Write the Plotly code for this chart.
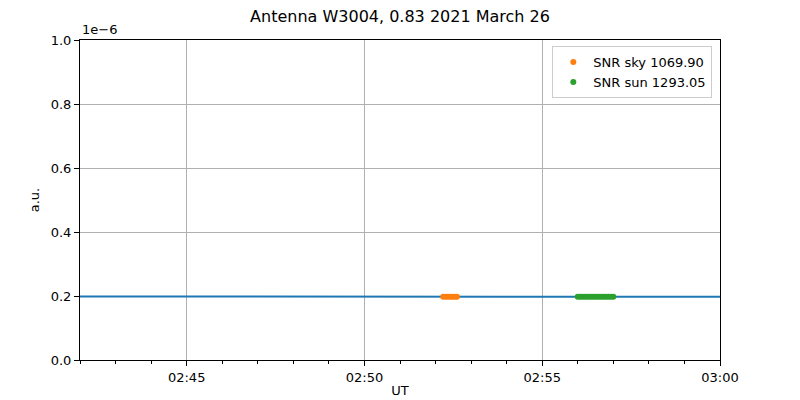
import plotly.graph_objects as go

# Data (values in units of 1e-6 a.u.)
line_times = ["2021-03-26 02:42:00", "2021-03-26 02:43:00", "2021-03-26 02:44:00", "2021-03-26 02:45:00",
              "2021-03-26 02:46:00", "2021-03-26 02:47:00", "2021-03-26 02:48:00", "2021-03-26 02:49:00",
              "2021-03-26 02:50:00", "2021-03-26 02:51:00", "2021-03-26 02:52:00", "2021-03-26 02:53:00",
              "2021-03-26 02:54:00", "2021-03-26 02:55:00", "2021-03-26 02:56:00", "2021-03-26 02:57:00",
              "2021-03-26 02:58:00", "2021-03-26 02:59:00", "2021-03-26 03:00:00"]
line_values = [0.1985, 0.1983, 0.1981, 0.1979, 0.1980, 0.1978, 0.1977, 0.1979, 0.1980, 0.1981,
               0.1979, 0.1982, 0.1981, 0.1980, 0.1979, 0.1978, 0.1979, 0.1978, 0.1979]

sky_times = ["2021-03-26 02:52:13", "2021-03-26 02:52:17", "2021-03-26 02:52:21", "2021-03-26 02:52:25",
             "2021-03-26 02:52:29", "2021-03-26 02:52:33", "2021-03-26 02:52:36"]
sky_values = [0.1975, 0.1974, 0.1976, 0.1975, 0.1974, 0.1975, 0.1976]

sun_times = ["2021-03-26 02:56:00", "2021-03-26 02:56:04", "2021-03-26 02:56:08", "2021-03-26 02:56:12",
             "2021-03-26 02:56:16", "2021-03-26 02:56:20", "2021-03-26 02:56:24", "2021-03-26 02:56:28",
             "2021-03-26 02:56:32", "2021-03-26 02:56:36", "2021-03-26 02:56:40", "2021-03-26 02:56:44",
             "2021-03-26 02:56:48", "2021-03-26 02:56:52", "2021-03-26 02:56:56", "2021-03-26 02:57:00"]
sun_values = [0.1976, 0.1975, 0.1976, 0.1977, 0.1975, 0.1976, 0.1975, 0.1976,
              0.1977, 0.1976, 0.1975, 0.1976, 0.1976, 0.1975, 0.1976, 0.1975]

sky_label = "SNR sky 1069.90"
sun_label = "SNR sun 1293.05"
title_text = "Antenna W3004, 0.83 2021 March 26"
x_tickvals = ["2021-03-26 02:45:00", "2021-03-26 02:50:00", "2021-03-26 02:55:00", "2021-03-26 03:00:00"]
x_ticktext = ["02:45", "02:50", "02:55", "03:00"]
y_tickvals = [0.0, 0.2, 0.4, 0.6, 0.8, 1.0]
y_ticktext = ["0.0", "0.2", "0.4", "0.6", "0.8", "1.0"]

FONT = "DejaVu Sans"
# page body has an 8px default margin: compensate
W, H = 792, 392

fig = go.Figure()
fig.add_trace(go.Scatter(x=line_times, y=line_values, mode="lines",
                         line=dict(color="#1f77b4", width=2), showlegend=False))
fig.add_trace(go.Scatter(x=sky_times, y=sky_values, mode="markers", name=sky_label,
                         marker=dict(color="#ff7f0e", size=6, line=dict(width=0))))
fig.add_trace(go.Scatter(x=sun_times, y=sun_values, mode="markers", name=sun_label,
                         marker=dict(color="#2ca02c", size=6, line=dict(width=0))))

fig.update_layout(
    width=W, height=H,
    margin=dict(l=72, r=80, t=32, b=40, autoexpand=False),
    paper_bgcolor="white", plot_bgcolor="white",
    font=dict(family=FONT, size=13, color="black"),
    title=dict(text=title_text, x=0.5, xanchor="center", y=1 - 8 / H, yanchor="middle",
               xref="paper", yref="container", font=dict(size=16, family=FONT)),
    legend=dict(x=0.988, y=0.981, xanchor="right", yanchor="top",
                bordercolor="#cccccc", borderwidth=1, bgcolor="rgba(255,255,255,0.8)",
                font=dict(size=13, family=FONT), itemwidth=30, tracegroupgap=0),
    showlegend=True,
)
fig.update_xaxes(
    range=["2021-03-26 02:42:00", "2021-03-26 03:00:00"],
    tickmode="array", tickvals=x_tickvals, ticktext=x_ticktext,
    showline=True, linecolor="black", linewidth=1, mirror=True,
    ticks="outside", ticklen=5, tickcolor="black", tickwidth=1,
    showgrid=True, gridcolor="#b0b0b0", gridwidth=1,
    zeroline=False, automargin=False,
    minor=dict(dtick=60000, ticks="outside", ticklen=3, tickcolor="black", showgrid=False,
               tick0="2021-03-26 02:42:00"),
    title=dict(text="UT", standoff=2, font=dict(size=13)),
)
fig.update_yaxes(
    range=[0, 1.0],
    tickmode="array", tickvals=y_tickvals, ticktext=y_ticktext,
    showline=True, linecolor="black", linewidth=1, mirror=True,
    ticks="outside", ticklen=5, tickcolor="black", tickwidth=1,
    showgrid=True, gridcolor="#b0b0b0", gridwidth=1,
    zeroline=False, automargin=False,
    title=dict(text="a.u.", standoff=8, font=dict(size=13)),
)
fig.add_annotation(text="1e\u22126", xref="paper", yref="paper", x=0, y=1,
                   xanchor="left", yanchor="bottom", showarrow=False, yshift=1,
                   font=dict(size=13, family=FONT))

fig.write_html("out.html")
